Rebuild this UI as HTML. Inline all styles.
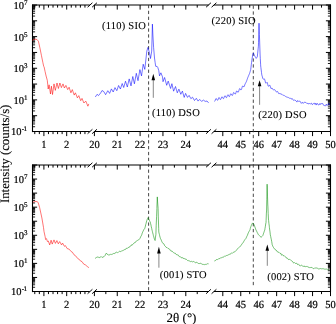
<!DOCTYPE html>
<html><head><meta charset="utf-8"><style>
html,body{margin:0;padding:0;background:#fff;}
svg{display:block;}
text{font-family:"Liberation Serif",serif;fill:#000;text-rendering:geometricPrecision;}
.tl{font-size:10.5px;stroke:#000;stroke-width:0.2px;}
.an{font-size:10.5px;stroke:#000;stroke-width:0.1px;}
.xl{font-size:10.9px;}
.xt{font-size:13px;stroke:#000;stroke-width:0.12px;}
.yt{font-size:12.8px;stroke:#000;stroke-width:0.12px;}
</style></head><body>
<svg width="336" height="324" viewBox="0 0 336 324">
<rect width="336" height="324" fill="#fff"/>
<line x1="32.50" y1="4.40" x2="32.50" y2="132.10" stroke="#000" stroke-width="1.1" />
<line x1="330.50" y1="4.40" x2="330.50" y2="132.10" stroke="#000" stroke-width="1.1" />
<line x1="32.50" y1="131.50" x2="37.10" y2="131.50" stroke="#000" stroke-width="1.0" />
<line x1="330.50" y1="131.50" x2="325.90" y2="131.50" stroke="#000" stroke-width="1.0" />
<line x1="32.50" y1="126.74" x2="35.10" y2="126.74" stroke="#000" stroke-width="0.9" />
<line x1="330.50" y1="126.74" x2="327.90" y2="126.74" stroke="#000" stroke-width="0.9" />
<line x1="32.50" y1="123.96" x2="35.10" y2="123.96" stroke="#000" stroke-width="0.9" />
<line x1="330.50" y1="123.96" x2="327.90" y2="123.96" stroke="#000" stroke-width="0.9" />
<line x1="32.50" y1="121.98" x2="35.10" y2="121.98" stroke="#000" stroke-width="0.9" />
<line x1="330.50" y1="121.98" x2="327.90" y2="121.98" stroke="#000" stroke-width="0.9" />
<line x1="32.50" y1="120.45" x2="35.10" y2="120.45" stroke="#000" stroke-width="0.9" />
<line x1="330.50" y1="120.45" x2="327.90" y2="120.45" stroke="#000" stroke-width="0.9" />
<line x1="32.50" y1="119.20" x2="35.10" y2="119.20" stroke="#000" stroke-width="0.9" />
<line x1="330.50" y1="119.20" x2="327.90" y2="119.20" stroke="#000" stroke-width="0.9" />
<line x1="32.50" y1="118.14" x2="35.10" y2="118.14" stroke="#000" stroke-width="0.9" />
<line x1="330.50" y1="118.14" x2="327.90" y2="118.14" stroke="#000" stroke-width="0.9" />
<line x1="32.50" y1="117.22" x2="35.10" y2="117.22" stroke="#000" stroke-width="0.9" />
<line x1="330.50" y1="117.22" x2="327.90" y2="117.22" stroke="#000" stroke-width="0.9" />
<line x1="32.50" y1="116.41" x2="35.10" y2="116.41" stroke="#000" stroke-width="0.9" />
<line x1="330.50" y1="116.41" x2="327.90" y2="116.41" stroke="#000" stroke-width="0.9" />
<line x1="32.50" y1="115.69" x2="37.10" y2="115.69" stroke="#000" stroke-width="1.0" />
<line x1="330.50" y1="115.69" x2="325.90" y2="115.69" stroke="#000" stroke-width="1.0" />
<line x1="32.50" y1="110.93" x2="35.10" y2="110.93" stroke="#000" stroke-width="0.9" />
<line x1="330.50" y1="110.93" x2="327.90" y2="110.93" stroke="#000" stroke-width="0.9" />
<line x1="32.50" y1="108.14" x2="35.10" y2="108.14" stroke="#000" stroke-width="0.9" />
<line x1="330.50" y1="108.14" x2="327.90" y2="108.14" stroke="#000" stroke-width="0.9" />
<line x1="32.50" y1="106.17" x2="35.10" y2="106.17" stroke="#000" stroke-width="0.9" />
<line x1="330.50" y1="106.17" x2="327.90" y2="106.17" stroke="#000" stroke-width="0.9" />
<line x1="32.50" y1="104.64" x2="35.10" y2="104.64" stroke="#000" stroke-width="0.9" />
<line x1="330.50" y1="104.64" x2="327.90" y2="104.64" stroke="#000" stroke-width="0.9" />
<line x1="32.50" y1="103.38" x2="35.10" y2="103.38" stroke="#000" stroke-width="0.9" />
<line x1="330.50" y1="103.38" x2="327.90" y2="103.38" stroke="#000" stroke-width="0.9" />
<line x1="32.50" y1="102.32" x2="35.10" y2="102.32" stroke="#000" stroke-width="0.9" />
<line x1="330.50" y1="102.32" x2="327.90" y2="102.32" stroke="#000" stroke-width="0.9" />
<line x1="32.50" y1="101.41" x2="35.10" y2="101.41" stroke="#000" stroke-width="0.9" />
<line x1="330.50" y1="101.41" x2="327.90" y2="101.41" stroke="#000" stroke-width="0.9" />
<line x1="32.50" y1="100.60" x2="35.10" y2="100.60" stroke="#000" stroke-width="0.9" />
<line x1="330.50" y1="100.60" x2="327.90" y2="100.60" stroke="#000" stroke-width="0.9" />
<line x1="32.50" y1="99.88" x2="37.10" y2="99.88" stroke="#000" stroke-width="1.0" />
<line x1="330.50" y1="99.88" x2="325.90" y2="99.88" stroke="#000" stroke-width="1.0" />
<line x1="32.50" y1="95.11" x2="35.10" y2="95.11" stroke="#000" stroke-width="0.9" />
<line x1="330.50" y1="95.11" x2="327.90" y2="95.11" stroke="#000" stroke-width="0.9" />
<line x1="32.50" y1="92.33" x2="35.10" y2="92.33" stroke="#000" stroke-width="0.9" />
<line x1="330.50" y1="92.33" x2="327.90" y2="92.33" stroke="#000" stroke-width="0.9" />
<line x1="32.50" y1="90.35" x2="35.10" y2="90.35" stroke="#000" stroke-width="0.9" />
<line x1="330.50" y1="90.35" x2="327.90" y2="90.35" stroke="#000" stroke-width="0.9" />
<line x1="32.50" y1="88.82" x2="35.10" y2="88.82" stroke="#000" stroke-width="0.9" />
<line x1="330.50" y1="88.82" x2="327.90" y2="88.82" stroke="#000" stroke-width="0.9" />
<line x1="32.50" y1="87.57" x2="35.10" y2="87.57" stroke="#000" stroke-width="0.9" />
<line x1="330.50" y1="87.57" x2="327.90" y2="87.57" stroke="#000" stroke-width="0.9" />
<line x1="32.50" y1="86.51" x2="35.10" y2="86.51" stroke="#000" stroke-width="0.9" />
<line x1="330.50" y1="86.51" x2="327.90" y2="86.51" stroke="#000" stroke-width="0.9" />
<line x1="32.50" y1="85.59" x2="35.10" y2="85.59" stroke="#000" stroke-width="0.9" />
<line x1="330.50" y1="85.59" x2="327.90" y2="85.59" stroke="#000" stroke-width="0.9" />
<line x1="32.50" y1="84.79" x2="35.10" y2="84.79" stroke="#000" stroke-width="0.9" />
<line x1="330.50" y1="84.79" x2="327.90" y2="84.79" stroke="#000" stroke-width="0.9" />
<line x1="32.50" y1="84.06" x2="37.10" y2="84.06" stroke="#000" stroke-width="1.0" />
<line x1="330.50" y1="84.06" x2="325.90" y2="84.06" stroke="#000" stroke-width="1.0" />
<line x1="32.50" y1="79.30" x2="35.10" y2="79.30" stroke="#000" stroke-width="0.9" />
<line x1="330.50" y1="79.30" x2="327.90" y2="79.30" stroke="#000" stroke-width="0.9" />
<line x1="32.50" y1="76.52" x2="35.10" y2="76.52" stroke="#000" stroke-width="0.9" />
<line x1="330.50" y1="76.52" x2="327.90" y2="76.52" stroke="#000" stroke-width="0.9" />
<line x1="32.50" y1="74.54" x2="35.10" y2="74.54" stroke="#000" stroke-width="0.9" />
<line x1="330.50" y1="74.54" x2="327.90" y2="74.54" stroke="#000" stroke-width="0.9" />
<line x1="32.50" y1="73.01" x2="35.10" y2="73.01" stroke="#000" stroke-width="0.9" />
<line x1="330.50" y1="73.01" x2="327.90" y2="73.01" stroke="#000" stroke-width="0.9" />
<line x1="32.50" y1="71.76" x2="35.10" y2="71.76" stroke="#000" stroke-width="0.9" />
<line x1="330.50" y1="71.76" x2="327.90" y2="71.76" stroke="#000" stroke-width="0.9" />
<line x1="32.50" y1="70.70" x2="35.10" y2="70.70" stroke="#000" stroke-width="0.9" />
<line x1="330.50" y1="70.70" x2="327.90" y2="70.70" stroke="#000" stroke-width="0.9" />
<line x1="32.50" y1="69.78" x2="35.10" y2="69.78" stroke="#000" stroke-width="0.9" />
<line x1="330.50" y1="69.78" x2="327.90" y2="69.78" stroke="#000" stroke-width="0.9" />
<line x1="32.50" y1="68.97" x2="35.10" y2="68.97" stroke="#000" stroke-width="0.9" />
<line x1="330.50" y1="68.97" x2="327.90" y2="68.97" stroke="#000" stroke-width="0.9" />
<line x1="32.50" y1="68.25" x2="37.10" y2="68.25" stroke="#000" stroke-width="1.0" />
<line x1="330.50" y1="68.25" x2="325.90" y2="68.25" stroke="#000" stroke-width="1.0" />
<line x1="32.50" y1="63.49" x2="35.10" y2="63.49" stroke="#000" stroke-width="0.9" />
<line x1="330.50" y1="63.49" x2="327.90" y2="63.49" stroke="#000" stroke-width="0.9" />
<line x1="32.50" y1="60.71" x2="35.10" y2="60.71" stroke="#000" stroke-width="0.9" />
<line x1="330.50" y1="60.71" x2="327.90" y2="60.71" stroke="#000" stroke-width="0.9" />
<line x1="32.50" y1="58.73" x2="35.10" y2="58.73" stroke="#000" stroke-width="0.9" />
<line x1="330.50" y1="58.73" x2="327.90" y2="58.73" stroke="#000" stroke-width="0.9" />
<line x1="32.50" y1="57.20" x2="35.10" y2="57.20" stroke="#000" stroke-width="0.9" />
<line x1="330.50" y1="57.20" x2="327.90" y2="57.20" stroke="#000" stroke-width="0.9" />
<line x1="32.50" y1="55.95" x2="35.10" y2="55.95" stroke="#000" stroke-width="0.9" />
<line x1="330.50" y1="55.95" x2="327.90" y2="55.95" stroke="#000" stroke-width="0.9" />
<line x1="32.50" y1="54.89" x2="35.10" y2="54.89" stroke="#000" stroke-width="0.9" />
<line x1="330.50" y1="54.89" x2="327.90" y2="54.89" stroke="#000" stroke-width="0.9" />
<line x1="32.50" y1="53.97" x2="35.10" y2="53.97" stroke="#000" stroke-width="0.9" />
<line x1="330.50" y1="53.97" x2="327.90" y2="53.97" stroke="#000" stroke-width="0.9" />
<line x1="32.50" y1="53.16" x2="35.10" y2="53.16" stroke="#000" stroke-width="0.9" />
<line x1="330.50" y1="53.16" x2="327.90" y2="53.16" stroke="#000" stroke-width="0.9" />
<line x1="32.50" y1="52.44" x2="37.10" y2="52.44" stroke="#000" stroke-width="1.0" />
<line x1="330.50" y1="52.44" x2="325.90" y2="52.44" stroke="#000" stroke-width="1.0" />
<line x1="32.50" y1="47.68" x2="35.10" y2="47.68" stroke="#000" stroke-width="0.9" />
<line x1="330.50" y1="47.68" x2="327.90" y2="47.68" stroke="#000" stroke-width="0.9" />
<line x1="32.50" y1="44.89" x2="35.10" y2="44.89" stroke="#000" stroke-width="0.9" />
<line x1="330.50" y1="44.89" x2="327.90" y2="44.89" stroke="#000" stroke-width="0.9" />
<line x1="32.50" y1="42.92" x2="35.10" y2="42.92" stroke="#000" stroke-width="0.9" />
<line x1="330.50" y1="42.92" x2="327.90" y2="42.92" stroke="#000" stroke-width="0.9" />
<line x1="32.50" y1="41.39" x2="35.10" y2="41.39" stroke="#000" stroke-width="0.9" />
<line x1="330.50" y1="41.39" x2="327.90" y2="41.39" stroke="#000" stroke-width="0.9" />
<line x1="32.50" y1="40.13" x2="35.10" y2="40.13" stroke="#000" stroke-width="0.9" />
<line x1="330.50" y1="40.13" x2="327.90" y2="40.13" stroke="#000" stroke-width="0.9" />
<line x1="32.50" y1="39.07" x2="35.10" y2="39.07" stroke="#000" stroke-width="0.9" />
<line x1="330.50" y1="39.07" x2="327.90" y2="39.07" stroke="#000" stroke-width="0.9" />
<line x1="32.50" y1="38.16" x2="35.10" y2="38.16" stroke="#000" stroke-width="0.9" />
<line x1="330.50" y1="38.16" x2="327.90" y2="38.16" stroke="#000" stroke-width="0.9" />
<line x1="32.50" y1="37.35" x2="35.10" y2="37.35" stroke="#000" stroke-width="0.9" />
<line x1="330.50" y1="37.35" x2="327.90" y2="37.35" stroke="#000" stroke-width="0.9" />
<line x1="32.50" y1="36.62" x2="37.10" y2="36.62" stroke="#000" stroke-width="1.0" />
<line x1="330.50" y1="36.62" x2="325.90" y2="36.62" stroke="#000" stroke-width="1.0" />
<line x1="32.50" y1="31.86" x2="35.10" y2="31.86" stroke="#000" stroke-width="0.9" />
<line x1="330.50" y1="31.86" x2="327.90" y2="31.86" stroke="#000" stroke-width="0.9" />
<line x1="32.50" y1="29.08" x2="35.10" y2="29.08" stroke="#000" stroke-width="0.9" />
<line x1="330.50" y1="29.08" x2="327.90" y2="29.08" stroke="#000" stroke-width="0.9" />
<line x1="32.50" y1="27.10" x2="35.10" y2="27.10" stroke="#000" stroke-width="0.9" />
<line x1="330.50" y1="27.10" x2="327.90" y2="27.10" stroke="#000" stroke-width="0.9" />
<line x1="32.50" y1="25.57" x2="35.10" y2="25.57" stroke="#000" stroke-width="0.9" />
<line x1="330.50" y1="25.57" x2="327.90" y2="25.57" stroke="#000" stroke-width="0.9" />
<line x1="32.50" y1="24.32" x2="35.10" y2="24.32" stroke="#000" stroke-width="0.9" />
<line x1="330.50" y1="24.32" x2="327.90" y2="24.32" stroke="#000" stroke-width="0.9" />
<line x1="32.50" y1="23.26" x2="35.10" y2="23.26" stroke="#000" stroke-width="0.9" />
<line x1="330.50" y1="23.26" x2="327.90" y2="23.26" stroke="#000" stroke-width="0.9" />
<line x1="32.50" y1="22.34" x2="35.10" y2="22.34" stroke="#000" stroke-width="0.9" />
<line x1="330.50" y1="22.34" x2="327.90" y2="22.34" stroke="#000" stroke-width="0.9" />
<line x1="32.50" y1="21.54" x2="35.10" y2="21.54" stroke="#000" stroke-width="0.9" />
<line x1="330.50" y1="21.54" x2="327.90" y2="21.54" stroke="#000" stroke-width="0.9" />
<line x1="32.50" y1="20.81" x2="37.10" y2="20.81" stroke="#000" stroke-width="1.0" />
<line x1="330.50" y1="20.81" x2="325.90" y2="20.81" stroke="#000" stroke-width="1.0" />
<line x1="32.50" y1="16.05" x2="35.10" y2="16.05" stroke="#000" stroke-width="0.9" />
<line x1="330.50" y1="16.05" x2="327.90" y2="16.05" stroke="#000" stroke-width="0.9" />
<line x1="32.50" y1="13.27" x2="35.10" y2="13.27" stroke="#000" stroke-width="0.9" />
<line x1="330.50" y1="13.27" x2="327.90" y2="13.27" stroke="#000" stroke-width="0.9" />
<line x1="32.50" y1="11.29" x2="35.10" y2="11.29" stroke="#000" stroke-width="0.9" />
<line x1="330.50" y1="11.29" x2="327.90" y2="11.29" stroke="#000" stroke-width="0.9" />
<line x1="32.50" y1="9.76" x2="35.10" y2="9.76" stroke="#000" stroke-width="0.9" />
<line x1="330.50" y1="9.76" x2="327.90" y2="9.76" stroke="#000" stroke-width="0.9" />
<line x1="32.50" y1="8.51" x2="35.10" y2="8.51" stroke="#000" stroke-width="0.9" />
<line x1="330.50" y1="8.51" x2="327.90" y2="8.51" stroke="#000" stroke-width="0.9" />
<line x1="32.50" y1="7.45" x2="35.10" y2="7.45" stroke="#000" stroke-width="0.9" />
<line x1="330.50" y1="7.45" x2="327.90" y2="7.45" stroke="#000" stroke-width="0.9" />
<line x1="32.50" y1="6.53" x2="35.10" y2="6.53" stroke="#000" stroke-width="0.9" />
<line x1="330.50" y1="6.53" x2="327.90" y2="6.53" stroke="#000" stroke-width="0.9" />
<line x1="32.50" y1="5.72" x2="35.10" y2="5.72" stroke="#000" stroke-width="0.9" />
<line x1="330.50" y1="5.72" x2="327.90" y2="5.72" stroke="#000" stroke-width="0.9" />
<line x1="32.50" y1="5.00" x2="37.10" y2="5.00" stroke="#000" stroke-width="1.0" />
<line x1="330.50" y1="5.00" x2="325.90" y2="5.00" stroke="#000" stroke-width="1.0" />
<line x1="32.50" y1="5.00" x2="89.80" y2="5.00" stroke="#000" stroke-width="1.2" />
<line x1="43.90" y1="5.00" x2="43.90" y2="9.60" stroke="#000" stroke-width="1.0" />
<line x1="66.70" y1="5.00" x2="66.70" y2="9.60" stroke="#000" stroke-width="1.0" />
<line x1="34.78" y1="5.00" x2="34.78" y2="7.60" stroke="#000" stroke-width="1.0" />
<line x1="39.34" y1="5.00" x2="39.34" y2="7.60" stroke="#000" stroke-width="1.0" />
<line x1="48.46" y1="5.00" x2="48.46" y2="7.60" stroke="#000" stroke-width="1.0" />
<line x1="53.02" y1="5.00" x2="53.02" y2="7.60" stroke="#000" stroke-width="1.0" />
<line x1="57.58" y1="5.00" x2="57.58" y2="7.60" stroke="#000" stroke-width="1.0" />
<line x1="62.14" y1="5.00" x2="62.14" y2="7.60" stroke="#000" stroke-width="1.0" />
<line x1="71.26" y1="5.00" x2="71.26" y2="7.60" stroke="#000" stroke-width="1.0" />
<line x1="75.82" y1="5.00" x2="75.82" y2="7.60" stroke="#000" stroke-width="1.0" />
<line x1="80.38" y1="5.00" x2="80.38" y2="7.60" stroke="#000" stroke-width="1.0" />
<line x1="84.94" y1="5.00" x2="84.94" y2="7.60" stroke="#000" stroke-width="1.0" />
<line x1="32.50" y1="131.50" x2="89.80" y2="131.50" stroke="#000" stroke-width="1.2" />
<line x1="43.90" y1="131.50" x2="43.90" y2="136.10" stroke="#000" stroke-width="1.0" />
<line x1="66.70" y1="131.50" x2="66.70" y2="136.10" stroke="#000" stroke-width="1.0" />
<line x1="34.78" y1="131.50" x2="34.78" y2="134.10" stroke="#000" stroke-width="1.0" />
<line x1="39.34" y1="131.50" x2="39.34" y2="134.10" stroke="#000" stroke-width="1.0" />
<line x1="48.46" y1="131.50" x2="48.46" y2="134.10" stroke="#000" stroke-width="1.0" />
<line x1="53.02" y1="131.50" x2="53.02" y2="134.10" stroke="#000" stroke-width="1.0" />
<line x1="57.58" y1="131.50" x2="57.58" y2="134.10" stroke="#000" stroke-width="1.0" />
<line x1="62.14" y1="131.50" x2="62.14" y2="134.10" stroke="#000" stroke-width="1.0" />
<line x1="71.26" y1="131.50" x2="71.26" y2="134.10" stroke="#000" stroke-width="1.0" />
<line x1="75.82" y1="131.50" x2="75.82" y2="134.10" stroke="#000" stroke-width="1.0" />
<line x1="80.38" y1="131.50" x2="80.38" y2="134.10" stroke="#000" stroke-width="1.0" />
<line x1="84.94" y1="131.50" x2="84.94" y2="134.10" stroke="#000" stroke-width="1.0" />
<line x1="94.40" y1="5.00" x2="208.65" y2="5.00" stroke="#000" stroke-width="1.2" />
<line x1="94.40" y1="5.00" x2="94.40" y2="9.60" stroke="#000" stroke-width="1.0" />
<line x1="117.25" y1="5.00" x2="117.25" y2="9.60" stroke="#000" stroke-width="1.0" />
<line x1="140.10" y1="5.00" x2="140.10" y2="9.60" stroke="#000" stroke-width="1.0" />
<line x1="162.95" y1="5.00" x2="162.95" y2="9.60" stroke="#000" stroke-width="1.0" />
<line x1="185.80" y1="5.00" x2="185.80" y2="9.60" stroke="#000" stroke-width="1.0" />
<line x1="105.83" y1="5.00" x2="105.83" y2="7.60" stroke="#000" stroke-width="1.0" />
<line x1="128.68" y1="5.00" x2="128.68" y2="7.60" stroke="#000" stroke-width="1.0" />
<line x1="151.53" y1="5.00" x2="151.53" y2="7.60" stroke="#000" stroke-width="1.0" />
<line x1="174.38" y1="5.00" x2="174.38" y2="7.60" stroke="#000" stroke-width="1.0" />
<line x1="197.23" y1="5.00" x2="197.23" y2="7.60" stroke="#000" stroke-width="1.0" />
<line x1="94.40" y1="131.50" x2="208.65" y2="131.50" stroke="#000" stroke-width="1.2" />
<line x1="94.40" y1="131.50" x2="94.40" y2="136.10" stroke="#000" stroke-width="1.0" />
<line x1="117.25" y1="131.50" x2="117.25" y2="136.10" stroke="#000" stroke-width="1.0" />
<line x1="140.10" y1="131.50" x2="140.10" y2="136.10" stroke="#000" stroke-width="1.0" />
<line x1="162.95" y1="131.50" x2="162.95" y2="136.10" stroke="#000" stroke-width="1.0" />
<line x1="185.80" y1="131.50" x2="185.80" y2="136.10" stroke="#000" stroke-width="1.0" />
<line x1="105.83" y1="131.50" x2="105.83" y2="134.10" stroke="#000" stroke-width="1.0" />
<line x1="128.68" y1="131.50" x2="128.68" y2="134.10" stroke="#000" stroke-width="1.0" />
<line x1="151.53" y1="131.50" x2="151.53" y2="134.10" stroke="#000" stroke-width="1.0" />
<line x1="174.38" y1="131.50" x2="174.38" y2="134.10" stroke="#000" stroke-width="1.0" />
<line x1="197.23" y1="131.50" x2="197.23" y2="134.10" stroke="#000" stroke-width="1.0" />
<line x1="213.90" y1="5.00" x2="330.50" y2="5.00" stroke="#000" stroke-width="1.2" />
<line x1="222.80" y1="5.00" x2="222.80" y2="9.60" stroke="#000" stroke-width="1.0" />
<line x1="240.75" y1="5.00" x2="240.75" y2="9.60" stroke="#000" stroke-width="1.0" />
<line x1="258.70" y1="5.00" x2="258.70" y2="9.60" stroke="#000" stroke-width="1.0" />
<line x1="276.65" y1="5.00" x2="276.65" y2="9.60" stroke="#000" stroke-width="1.0" />
<line x1="294.60" y1="5.00" x2="294.60" y2="9.60" stroke="#000" stroke-width="1.0" />
<line x1="312.55" y1="5.00" x2="312.55" y2="9.60" stroke="#000" stroke-width="1.0" />
<line x1="330.50" y1="5.00" x2="330.50" y2="9.60" stroke="#000" stroke-width="1.0" />
<line x1="231.78" y1="5.00" x2="231.78" y2="7.60" stroke="#000" stroke-width="1.0" />
<line x1="249.73" y1="5.00" x2="249.73" y2="7.60" stroke="#000" stroke-width="1.0" />
<line x1="267.68" y1="5.00" x2="267.68" y2="7.60" stroke="#000" stroke-width="1.0" />
<line x1="285.62" y1="5.00" x2="285.62" y2="7.60" stroke="#000" stroke-width="1.0" />
<line x1="303.57" y1="5.00" x2="303.57" y2="7.60" stroke="#000" stroke-width="1.0" />
<line x1="321.52" y1="5.00" x2="321.52" y2="7.60" stroke="#000" stroke-width="1.0" />
<line x1="213.90" y1="131.50" x2="330.50" y2="131.50" stroke="#000" stroke-width="1.2" />
<line x1="222.80" y1="131.50" x2="222.80" y2="136.10" stroke="#000" stroke-width="1.0" />
<line x1="240.75" y1="131.50" x2="240.75" y2="136.10" stroke="#000" stroke-width="1.0" />
<line x1="258.70" y1="131.50" x2="258.70" y2="136.10" stroke="#000" stroke-width="1.0" />
<line x1="276.65" y1="131.50" x2="276.65" y2="136.10" stroke="#000" stroke-width="1.0" />
<line x1="294.60" y1="131.50" x2="294.60" y2="136.10" stroke="#000" stroke-width="1.0" />
<line x1="312.55" y1="131.50" x2="312.55" y2="136.10" stroke="#000" stroke-width="1.0" />
<line x1="330.50" y1="131.50" x2="330.50" y2="136.10" stroke="#000" stroke-width="1.0" />
<line x1="231.78" y1="131.50" x2="231.78" y2="134.10" stroke="#000" stroke-width="1.0" />
<line x1="249.73" y1="131.50" x2="249.73" y2="134.10" stroke="#000" stroke-width="1.0" />
<line x1="267.68" y1="131.50" x2="267.68" y2="134.10" stroke="#000" stroke-width="1.0" />
<line x1="285.62" y1="131.50" x2="285.62" y2="134.10" stroke="#000" stroke-width="1.0" />
<line x1="303.57" y1="131.50" x2="303.57" y2="134.10" stroke="#000" stroke-width="1.0" />
<line x1="321.52" y1="131.50" x2="321.52" y2="134.10" stroke="#000" stroke-width="1.0" />
<line x1="87.60" y1="7.20" x2="92.40" y2="2.80" stroke="#000" stroke-width="1.0" />
<line x1="87.60" y1="133.70" x2="92.40" y2="129.30" stroke="#000" stroke-width="1.0" />
<line x1="92.10" y1="7.20" x2="96.90" y2="2.80" stroke="#000" stroke-width="1.0" />
<line x1="92.10" y1="133.70" x2="96.90" y2="129.30" stroke="#000" stroke-width="1.0" />
<line x1="206.10" y1="7.20" x2="210.90" y2="2.80" stroke="#000" stroke-width="1.0" />
<line x1="206.10" y1="133.70" x2="210.90" y2="129.30" stroke="#000" stroke-width="1.0" />
<line x1="211.60" y1="7.20" x2="216.40" y2="2.80" stroke="#000" stroke-width="1.0" />
<line x1="211.60" y1="133.70" x2="216.40" y2="129.30" stroke="#000" stroke-width="1.0" />
<text x="27.4" y="8.90" text-anchor="end" class="tl">10<tspan dy="-4.0" font-size="7.0">7</tspan></text>
<text x="27.4" y="40.52" text-anchor="end" class="tl">10<tspan dy="-4.0" font-size="7.0">5</tspan></text>
<text x="27.4" y="72.15" text-anchor="end" class="tl">10<tspan dy="-4.0" font-size="7.0">3</tspan></text>
<text x="27.4" y="103.78" text-anchor="end" class="tl">10<tspan dy="-4.0" font-size="7.0">1</tspan></text>
<text x="21.45" y="135.40" text-anchor="end" class="tl">10</text><text x="21.7" y="131.40" class="tl" style="font-size:7px">-</text><text x="26.9" y="131.10" class="tl" style="font-size:7px" text-anchor="end">1</text>
<text x="43.90" y="147.80" text-anchor="middle" class="tl xl" textLength="5.25" lengthAdjust="spacingAndGlyphs">1</text>
<text x="66.70" y="147.80" text-anchor="middle" class="tl xl" textLength="5.25" lengthAdjust="spacingAndGlyphs">2</text>
<text x="94.40" y="147.80" text-anchor="middle" class="tl xl" textLength="10.50" lengthAdjust="spacingAndGlyphs">20</text>
<text x="117.25" y="147.80" text-anchor="middle" class="tl xl" textLength="10.50" lengthAdjust="spacingAndGlyphs">21</text>
<text x="140.10" y="147.80" text-anchor="middle" class="tl xl" textLength="10.50" lengthAdjust="spacingAndGlyphs">22</text>
<text x="162.95" y="147.80" text-anchor="middle" class="tl xl" textLength="10.50" lengthAdjust="spacingAndGlyphs">23</text>
<text x="185.80" y="147.80" text-anchor="middle" class="tl xl" textLength="10.50" lengthAdjust="spacingAndGlyphs">24</text>
<text x="222.80" y="147.80" text-anchor="middle" class="tl xl" textLength="10.50" lengthAdjust="spacingAndGlyphs">44</text>
<text x="240.75" y="147.80" text-anchor="middle" class="tl xl" textLength="10.50" lengthAdjust="spacingAndGlyphs">45</text>
<text x="258.70" y="147.80" text-anchor="middle" class="tl xl" textLength="10.50" lengthAdjust="spacingAndGlyphs">46</text>
<text x="276.65" y="147.80" text-anchor="middle" class="tl xl" textLength="10.50" lengthAdjust="spacingAndGlyphs">47</text>
<text x="294.60" y="147.80" text-anchor="middle" class="tl xl" textLength="10.50" lengthAdjust="spacingAndGlyphs">48</text>
<text x="312.55" y="147.80" text-anchor="middle" class="tl xl" textLength="10.50" lengthAdjust="spacingAndGlyphs">49</text>
<text x="330.50" y="147.80" text-anchor="middle" class="tl xl" textLength="10.50" lengthAdjust="spacingAndGlyphs">50</text>
<line x1="32.50" y1="164.40" x2="32.50" y2="292.10" stroke="#000" stroke-width="1.1" />
<line x1="330.50" y1="164.40" x2="330.50" y2="292.10" stroke="#000" stroke-width="1.1" />
<line x1="32.50" y1="291.50" x2="37.10" y2="291.50" stroke="#000" stroke-width="1.0" />
<line x1="330.50" y1="291.50" x2="325.90" y2="291.50" stroke="#000" stroke-width="1.0" />
<line x1="32.50" y1="287.27" x2="35.10" y2="287.27" stroke="#000" stroke-width="0.9" />
<line x1="330.50" y1="287.27" x2="327.90" y2="287.27" stroke="#000" stroke-width="0.9" />
<line x1="32.50" y1="284.79" x2="35.10" y2="284.79" stroke="#000" stroke-width="0.9" />
<line x1="330.50" y1="284.79" x2="327.90" y2="284.79" stroke="#000" stroke-width="0.9" />
<line x1="32.50" y1="283.04" x2="35.10" y2="283.04" stroke="#000" stroke-width="0.9" />
<line x1="330.50" y1="283.04" x2="327.90" y2="283.04" stroke="#000" stroke-width="0.9" />
<line x1="32.50" y1="281.68" x2="35.10" y2="281.68" stroke="#000" stroke-width="0.9" />
<line x1="330.50" y1="281.68" x2="327.90" y2="281.68" stroke="#000" stroke-width="0.9" />
<line x1="32.50" y1="280.56" x2="35.10" y2="280.56" stroke="#000" stroke-width="0.9" />
<line x1="330.50" y1="280.56" x2="327.90" y2="280.56" stroke="#000" stroke-width="0.9" />
<line x1="32.50" y1="279.62" x2="35.10" y2="279.62" stroke="#000" stroke-width="0.9" />
<line x1="330.50" y1="279.62" x2="327.90" y2="279.62" stroke="#000" stroke-width="0.9" />
<line x1="32.50" y1="278.81" x2="35.10" y2="278.81" stroke="#000" stroke-width="0.9" />
<line x1="330.50" y1="278.81" x2="327.90" y2="278.81" stroke="#000" stroke-width="0.9" />
<line x1="32.50" y1="278.09" x2="35.10" y2="278.09" stroke="#000" stroke-width="0.9" />
<line x1="330.50" y1="278.09" x2="327.90" y2="278.09" stroke="#000" stroke-width="0.9" />
<line x1="32.50" y1="277.44" x2="37.10" y2="277.44" stroke="#000" stroke-width="1.0" />
<line x1="330.50" y1="277.44" x2="325.90" y2="277.44" stroke="#000" stroke-width="1.0" />
<line x1="32.50" y1="273.21" x2="35.10" y2="273.21" stroke="#000" stroke-width="0.9" />
<line x1="330.50" y1="273.21" x2="327.90" y2="273.21" stroke="#000" stroke-width="0.9" />
<line x1="32.50" y1="270.74" x2="35.10" y2="270.74" stroke="#000" stroke-width="0.9" />
<line x1="330.50" y1="270.74" x2="327.90" y2="270.74" stroke="#000" stroke-width="0.9" />
<line x1="32.50" y1="268.98" x2="35.10" y2="268.98" stroke="#000" stroke-width="0.9" />
<line x1="330.50" y1="268.98" x2="327.90" y2="268.98" stroke="#000" stroke-width="0.9" />
<line x1="32.50" y1="267.62" x2="35.10" y2="267.62" stroke="#000" stroke-width="0.9" />
<line x1="330.50" y1="267.62" x2="327.90" y2="267.62" stroke="#000" stroke-width="0.9" />
<line x1="32.50" y1="266.51" x2="35.10" y2="266.51" stroke="#000" stroke-width="0.9" />
<line x1="330.50" y1="266.51" x2="327.90" y2="266.51" stroke="#000" stroke-width="0.9" />
<line x1="32.50" y1="265.57" x2="35.10" y2="265.57" stroke="#000" stroke-width="0.9" />
<line x1="330.50" y1="265.57" x2="327.90" y2="265.57" stroke="#000" stroke-width="0.9" />
<line x1="32.50" y1="264.75" x2="35.10" y2="264.75" stroke="#000" stroke-width="0.9" />
<line x1="330.50" y1="264.75" x2="327.90" y2="264.75" stroke="#000" stroke-width="0.9" />
<line x1="32.50" y1="264.03" x2="35.10" y2="264.03" stroke="#000" stroke-width="0.9" />
<line x1="330.50" y1="264.03" x2="327.90" y2="264.03" stroke="#000" stroke-width="0.9" />
<line x1="32.50" y1="263.39" x2="37.10" y2="263.39" stroke="#000" stroke-width="1.0" />
<line x1="330.50" y1="263.39" x2="325.90" y2="263.39" stroke="#000" stroke-width="1.0" />
<line x1="32.50" y1="259.16" x2="35.10" y2="259.16" stroke="#000" stroke-width="0.9" />
<line x1="330.50" y1="259.16" x2="327.90" y2="259.16" stroke="#000" stroke-width="0.9" />
<line x1="32.50" y1="256.68" x2="35.10" y2="256.68" stroke="#000" stroke-width="0.9" />
<line x1="330.50" y1="256.68" x2="327.90" y2="256.68" stroke="#000" stroke-width="0.9" />
<line x1="32.50" y1="254.93" x2="35.10" y2="254.93" stroke="#000" stroke-width="0.9" />
<line x1="330.50" y1="254.93" x2="327.90" y2="254.93" stroke="#000" stroke-width="0.9" />
<line x1="32.50" y1="253.56" x2="35.10" y2="253.56" stroke="#000" stroke-width="0.9" />
<line x1="330.50" y1="253.56" x2="327.90" y2="253.56" stroke="#000" stroke-width="0.9" />
<line x1="32.50" y1="252.45" x2="35.10" y2="252.45" stroke="#000" stroke-width="0.9" />
<line x1="330.50" y1="252.45" x2="327.90" y2="252.45" stroke="#000" stroke-width="0.9" />
<line x1="32.50" y1="251.51" x2="35.10" y2="251.51" stroke="#000" stroke-width="0.9" />
<line x1="330.50" y1="251.51" x2="327.90" y2="251.51" stroke="#000" stroke-width="0.9" />
<line x1="32.50" y1="250.70" x2="35.10" y2="250.70" stroke="#000" stroke-width="0.9" />
<line x1="330.50" y1="250.70" x2="327.90" y2="250.70" stroke="#000" stroke-width="0.9" />
<line x1="32.50" y1="249.98" x2="35.10" y2="249.98" stroke="#000" stroke-width="0.9" />
<line x1="330.50" y1="249.98" x2="327.90" y2="249.98" stroke="#000" stroke-width="0.9" />
<line x1="32.50" y1="249.33" x2="37.10" y2="249.33" stroke="#000" stroke-width="1.0" />
<line x1="330.50" y1="249.33" x2="325.90" y2="249.33" stroke="#000" stroke-width="1.0" />
<line x1="32.50" y1="245.10" x2="35.10" y2="245.10" stroke="#000" stroke-width="0.9" />
<line x1="330.50" y1="245.10" x2="327.90" y2="245.10" stroke="#000" stroke-width="0.9" />
<line x1="32.50" y1="242.63" x2="35.10" y2="242.63" stroke="#000" stroke-width="0.9" />
<line x1="330.50" y1="242.63" x2="327.90" y2="242.63" stroke="#000" stroke-width="0.9" />
<line x1="32.50" y1="240.87" x2="35.10" y2="240.87" stroke="#000" stroke-width="0.9" />
<line x1="330.50" y1="240.87" x2="327.90" y2="240.87" stroke="#000" stroke-width="0.9" />
<line x1="32.50" y1="239.51" x2="35.10" y2="239.51" stroke="#000" stroke-width="0.9" />
<line x1="330.50" y1="239.51" x2="327.90" y2="239.51" stroke="#000" stroke-width="0.9" />
<line x1="32.50" y1="238.40" x2="35.10" y2="238.40" stroke="#000" stroke-width="0.9" />
<line x1="330.50" y1="238.40" x2="327.90" y2="238.40" stroke="#000" stroke-width="0.9" />
<line x1="32.50" y1="237.46" x2="35.10" y2="237.46" stroke="#000" stroke-width="0.9" />
<line x1="330.50" y1="237.46" x2="327.90" y2="237.46" stroke="#000" stroke-width="0.9" />
<line x1="32.50" y1="236.64" x2="35.10" y2="236.64" stroke="#000" stroke-width="0.9" />
<line x1="330.50" y1="236.64" x2="327.90" y2="236.64" stroke="#000" stroke-width="0.9" />
<line x1="32.50" y1="235.92" x2="35.10" y2="235.92" stroke="#000" stroke-width="0.9" />
<line x1="330.50" y1="235.92" x2="327.90" y2="235.92" stroke="#000" stroke-width="0.9" />
<line x1="32.50" y1="235.28" x2="37.10" y2="235.28" stroke="#000" stroke-width="1.0" />
<line x1="330.50" y1="235.28" x2="325.90" y2="235.28" stroke="#000" stroke-width="1.0" />
<line x1="32.50" y1="231.05" x2="35.10" y2="231.05" stroke="#000" stroke-width="0.9" />
<line x1="330.50" y1="231.05" x2="327.90" y2="231.05" stroke="#000" stroke-width="0.9" />
<line x1="32.50" y1="228.57" x2="35.10" y2="228.57" stroke="#000" stroke-width="0.9" />
<line x1="330.50" y1="228.57" x2="327.90" y2="228.57" stroke="#000" stroke-width="0.9" />
<line x1="32.50" y1="226.82" x2="35.10" y2="226.82" stroke="#000" stroke-width="0.9" />
<line x1="330.50" y1="226.82" x2="327.90" y2="226.82" stroke="#000" stroke-width="0.9" />
<line x1="32.50" y1="225.45" x2="35.10" y2="225.45" stroke="#000" stroke-width="0.9" />
<line x1="330.50" y1="225.45" x2="327.90" y2="225.45" stroke="#000" stroke-width="0.9" />
<line x1="32.50" y1="224.34" x2="35.10" y2="224.34" stroke="#000" stroke-width="0.9" />
<line x1="330.50" y1="224.34" x2="327.90" y2="224.34" stroke="#000" stroke-width="0.9" />
<line x1="32.50" y1="223.40" x2="35.10" y2="223.40" stroke="#000" stroke-width="0.9" />
<line x1="330.50" y1="223.40" x2="327.90" y2="223.40" stroke="#000" stroke-width="0.9" />
<line x1="32.50" y1="222.58" x2="35.10" y2="222.58" stroke="#000" stroke-width="0.9" />
<line x1="330.50" y1="222.58" x2="327.90" y2="222.58" stroke="#000" stroke-width="0.9" />
<line x1="32.50" y1="221.87" x2="35.10" y2="221.87" stroke="#000" stroke-width="0.9" />
<line x1="330.50" y1="221.87" x2="327.90" y2="221.87" stroke="#000" stroke-width="0.9" />
<line x1="32.50" y1="221.22" x2="37.10" y2="221.22" stroke="#000" stroke-width="1.0" />
<line x1="330.50" y1="221.22" x2="325.90" y2="221.22" stroke="#000" stroke-width="1.0" />
<line x1="32.50" y1="216.99" x2="35.10" y2="216.99" stroke="#000" stroke-width="0.9" />
<line x1="330.50" y1="216.99" x2="327.90" y2="216.99" stroke="#000" stroke-width="0.9" />
<line x1="32.50" y1="214.52" x2="35.10" y2="214.52" stroke="#000" stroke-width="0.9" />
<line x1="330.50" y1="214.52" x2="327.90" y2="214.52" stroke="#000" stroke-width="0.9" />
<line x1="32.50" y1="212.76" x2="35.10" y2="212.76" stroke="#000" stroke-width="0.9" />
<line x1="330.50" y1="212.76" x2="327.90" y2="212.76" stroke="#000" stroke-width="0.9" />
<line x1="32.50" y1="211.40" x2="35.10" y2="211.40" stroke="#000" stroke-width="0.9" />
<line x1="330.50" y1="211.40" x2="327.90" y2="211.40" stroke="#000" stroke-width="0.9" />
<line x1="32.50" y1="210.28" x2="35.10" y2="210.28" stroke="#000" stroke-width="0.9" />
<line x1="330.50" y1="210.28" x2="327.90" y2="210.28" stroke="#000" stroke-width="0.9" />
<line x1="32.50" y1="209.34" x2="35.10" y2="209.34" stroke="#000" stroke-width="0.9" />
<line x1="330.50" y1="209.34" x2="327.90" y2="209.34" stroke="#000" stroke-width="0.9" />
<line x1="32.50" y1="208.53" x2="35.10" y2="208.53" stroke="#000" stroke-width="0.9" />
<line x1="330.50" y1="208.53" x2="327.90" y2="208.53" stroke="#000" stroke-width="0.9" />
<line x1="32.50" y1="207.81" x2="35.10" y2="207.81" stroke="#000" stroke-width="0.9" />
<line x1="330.50" y1="207.81" x2="327.90" y2="207.81" stroke="#000" stroke-width="0.9" />
<line x1="32.50" y1="207.17" x2="37.10" y2="207.17" stroke="#000" stroke-width="1.0" />
<line x1="330.50" y1="207.17" x2="325.90" y2="207.17" stroke="#000" stroke-width="1.0" />
<line x1="32.50" y1="202.94" x2="35.10" y2="202.94" stroke="#000" stroke-width="0.9" />
<line x1="330.50" y1="202.94" x2="327.90" y2="202.94" stroke="#000" stroke-width="0.9" />
<line x1="32.50" y1="200.46" x2="35.10" y2="200.46" stroke="#000" stroke-width="0.9" />
<line x1="330.50" y1="200.46" x2="327.90" y2="200.46" stroke="#000" stroke-width="0.9" />
<line x1="32.50" y1="198.70" x2="35.10" y2="198.70" stroke="#000" stroke-width="0.9" />
<line x1="330.50" y1="198.70" x2="327.90" y2="198.70" stroke="#000" stroke-width="0.9" />
<line x1="32.50" y1="197.34" x2="35.10" y2="197.34" stroke="#000" stroke-width="0.9" />
<line x1="330.50" y1="197.34" x2="327.90" y2="197.34" stroke="#000" stroke-width="0.9" />
<line x1="32.50" y1="196.23" x2="35.10" y2="196.23" stroke="#000" stroke-width="0.9" />
<line x1="330.50" y1="196.23" x2="327.90" y2="196.23" stroke="#000" stroke-width="0.9" />
<line x1="32.50" y1="195.29" x2="35.10" y2="195.29" stroke="#000" stroke-width="0.9" />
<line x1="330.50" y1="195.29" x2="327.90" y2="195.29" stroke="#000" stroke-width="0.9" />
<line x1="32.50" y1="194.47" x2="35.10" y2="194.47" stroke="#000" stroke-width="0.9" />
<line x1="330.50" y1="194.47" x2="327.90" y2="194.47" stroke="#000" stroke-width="0.9" />
<line x1="32.50" y1="193.75" x2="35.10" y2="193.75" stroke="#000" stroke-width="0.9" />
<line x1="330.50" y1="193.75" x2="327.90" y2="193.75" stroke="#000" stroke-width="0.9" />
<line x1="32.50" y1="193.11" x2="37.10" y2="193.11" stroke="#000" stroke-width="1.0" />
<line x1="330.50" y1="193.11" x2="325.90" y2="193.11" stroke="#000" stroke-width="1.0" />
<line x1="32.50" y1="188.88" x2="35.10" y2="188.88" stroke="#000" stroke-width="0.9" />
<line x1="330.50" y1="188.88" x2="327.90" y2="188.88" stroke="#000" stroke-width="0.9" />
<line x1="32.50" y1="186.40" x2="35.10" y2="186.40" stroke="#000" stroke-width="0.9" />
<line x1="330.50" y1="186.40" x2="327.90" y2="186.40" stroke="#000" stroke-width="0.9" />
<line x1="32.50" y1="184.65" x2="35.10" y2="184.65" stroke="#000" stroke-width="0.9" />
<line x1="330.50" y1="184.65" x2="327.90" y2="184.65" stroke="#000" stroke-width="0.9" />
<line x1="32.50" y1="183.29" x2="35.10" y2="183.29" stroke="#000" stroke-width="0.9" />
<line x1="330.50" y1="183.29" x2="327.90" y2="183.29" stroke="#000" stroke-width="0.9" />
<line x1="32.50" y1="182.17" x2="35.10" y2="182.17" stroke="#000" stroke-width="0.9" />
<line x1="330.50" y1="182.17" x2="327.90" y2="182.17" stroke="#000" stroke-width="0.9" />
<line x1="32.50" y1="181.23" x2="35.10" y2="181.23" stroke="#000" stroke-width="0.9" />
<line x1="330.50" y1="181.23" x2="327.90" y2="181.23" stroke="#000" stroke-width="0.9" />
<line x1="32.50" y1="180.42" x2="35.10" y2="180.42" stroke="#000" stroke-width="0.9" />
<line x1="330.50" y1="180.42" x2="327.90" y2="180.42" stroke="#000" stroke-width="0.9" />
<line x1="32.50" y1="179.70" x2="35.10" y2="179.70" stroke="#000" stroke-width="0.9" />
<line x1="330.50" y1="179.70" x2="327.90" y2="179.70" stroke="#000" stroke-width="0.9" />
<line x1="32.50" y1="179.06" x2="37.10" y2="179.06" stroke="#000" stroke-width="1.0" />
<line x1="330.50" y1="179.06" x2="325.90" y2="179.06" stroke="#000" stroke-width="1.0" />
<line x1="32.50" y1="174.82" x2="35.10" y2="174.82" stroke="#000" stroke-width="0.9" />
<line x1="330.50" y1="174.82" x2="327.90" y2="174.82" stroke="#000" stroke-width="0.9" />
<line x1="32.50" y1="172.35" x2="35.10" y2="172.35" stroke="#000" stroke-width="0.9" />
<line x1="330.50" y1="172.35" x2="327.90" y2="172.35" stroke="#000" stroke-width="0.9" />
<line x1="32.50" y1="170.59" x2="35.10" y2="170.59" stroke="#000" stroke-width="0.9" />
<line x1="330.50" y1="170.59" x2="327.90" y2="170.59" stroke="#000" stroke-width="0.9" />
<line x1="32.50" y1="169.23" x2="35.10" y2="169.23" stroke="#000" stroke-width="0.9" />
<line x1="330.50" y1="169.23" x2="327.90" y2="169.23" stroke="#000" stroke-width="0.9" />
<line x1="32.50" y1="168.12" x2="35.10" y2="168.12" stroke="#000" stroke-width="0.9" />
<line x1="330.50" y1="168.12" x2="327.90" y2="168.12" stroke="#000" stroke-width="0.9" />
<line x1="32.50" y1="167.18" x2="35.10" y2="167.18" stroke="#000" stroke-width="0.9" />
<line x1="330.50" y1="167.18" x2="327.90" y2="167.18" stroke="#000" stroke-width="0.9" />
<line x1="32.50" y1="166.36" x2="35.10" y2="166.36" stroke="#000" stroke-width="0.9" />
<line x1="330.50" y1="166.36" x2="327.90" y2="166.36" stroke="#000" stroke-width="0.9" />
<line x1="32.50" y1="165.64" x2="35.10" y2="165.64" stroke="#000" stroke-width="0.9" />
<line x1="330.50" y1="165.64" x2="327.90" y2="165.64" stroke="#000" stroke-width="0.9" />
<line x1="32.50" y1="165.00" x2="37.10" y2="165.00" stroke="#000" stroke-width="1.0" />
<line x1="330.50" y1="165.00" x2="325.90" y2="165.00" stroke="#000" stroke-width="1.0" />
<line x1="32.50" y1="165.00" x2="89.80" y2="165.00" stroke="#000" stroke-width="1.2" />
<line x1="43.90" y1="165.00" x2="43.90" y2="169.60" stroke="#000" stroke-width="1.0" />
<line x1="66.70" y1="165.00" x2="66.70" y2="169.60" stroke="#000" stroke-width="1.0" />
<line x1="34.78" y1="165.00" x2="34.78" y2="167.60" stroke="#000" stroke-width="1.0" />
<line x1="39.34" y1="165.00" x2="39.34" y2="167.60" stroke="#000" stroke-width="1.0" />
<line x1="48.46" y1="165.00" x2="48.46" y2="167.60" stroke="#000" stroke-width="1.0" />
<line x1="53.02" y1="165.00" x2="53.02" y2="167.60" stroke="#000" stroke-width="1.0" />
<line x1="57.58" y1="165.00" x2="57.58" y2="167.60" stroke="#000" stroke-width="1.0" />
<line x1="62.14" y1="165.00" x2="62.14" y2="167.60" stroke="#000" stroke-width="1.0" />
<line x1="71.26" y1="165.00" x2="71.26" y2="167.60" stroke="#000" stroke-width="1.0" />
<line x1="75.82" y1="165.00" x2="75.82" y2="167.60" stroke="#000" stroke-width="1.0" />
<line x1="80.38" y1="165.00" x2="80.38" y2="167.60" stroke="#000" stroke-width="1.0" />
<line x1="84.94" y1="165.00" x2="84.94" y2="167.60" stroke="#000" stroke-width="1.0" />
<line x1="32.50" y1="291.50" x2="89.80" y2="291.50" stroke="#000" stroke-width="1.2" />
<line x1="43.90" y1="291.50" x2="43.90" y2="296.10" stroke="#000" stroke-width="1.0" />
<line x1="66.70" y1="291.50" x2="66.70" y2="296.10" stroke="#000" stroke-width="1.0" />
<line x1="34.78" y1="291.50" x2="34.78" y2="294.10" stroke="#000" stroke-width="1.0" />
<line x1="39.34" y1="291.50" x2="39.34" y2="294.10" stroke="#000" stroke-width="1.0" />
<line x1="48.46" y1="291.50" x2="48.46" y2="294.10" stroke="#000" stroke-width="1.0" />
<line x1="53.02" y1="291.50" x2="53.02" y2="294.10" stroke="#000" stroke-width="1.0" />
<line x1="57.58" y1="291.50" x2="57.58" y2="294.10" stroke="#000" stroke-width="1.0" />
<line x1="62.14" y1="291.50" x2="62.14" y2="294.10" stroke="#000" stroke-width="1.0" />
<line x1="71.26" y1="291.50" x2="71.26" y2="294.10" stroke="#000" stroke-width="1.0" />
<line x1="75.82" y1="291.50" x2="75.82" y2="294.10" stroke="#000" stroke-width="1.0" />
<line x1="80.38" y1="291.50" x2="80.38" y2="294.10" stroke="#000" stroke-width="1.0" />
<line x1="84.94" y1="291.50" x2="84.94" y2="294.10" stroke="#000" stroke-width="1.0" />
<line x1="94.40" y1="165.00" x2="208.65" y2="165.00" stroke="#000" stroke-width="1.2" />
<line x1="94.40" y1="165.00" x2="94.40" y2="169.60" stroke="#000" stroke-width="1.0" />
<line x1="117.25" y1="165.00" x2="117.25" y2="169.60" stroke="#000" stroke-width="1.0" />
<line x1="140.10" y1="165.00" x2="140.10" y2="169.60" stroke="#000" stroke-width="1.0" />
<line x1="162.95" y1="165.00" x2="162.95" y2="169.60" stroke="#000" stroke-width="1.0" />
<line x1="185.80" y1="165.00" x2="185.80" y2="169.60" stroke="#000" stroke-width="1.0" />
<line x1="105.83" y1="165.00" x2="105.83" y2="167.60" stroke="#000" stroke-width="1.0" />
<line x1="128.68" y1="165.00" x2="128.68" y2="167.60" stroke="#000" stroke-width="1.0" />
<line x1="151.53" y1="165.00" x2="151.53" y2="167.60" stroke="#000" stroke-width="1.0" />
<line x1="174.38" y1="165.00" x2="174.38" y2="167.60" stroke="#000" stroke-width="1.0" />
<line x1="197.23" y1="165.00" x2="197.23" y2="167.60" stroke="#000" stroke-width="1.0" />
<line x1="94.40" y1="291.50" x2="208.65" y2="291.50" stroke="#000" stroke-width="1.2" />
<line x1="94.40" y1="291.50" x2="94.40" y2="296.10" stroke="#000" stroke-width="1.0" />
<line x1="117.25" y1="291.50" x2="117.25" y2="296.10" stroke="#000" stroke-width="1.0" />
<line x1="140.10" y1="291.50" x2="140.10" y2="296.10" stroke="#000" stroke-width="1.0" />
<line x1="162.95" y1="291.50" x2="162.95" y2="296.10" stroke="#000" stroke-width="1.0" />
<line x1="185.80" y1="291.50" x2="185.80" y2="296.10" stroke="#000" stroke-width="1.0" />
<line x1="105.83" y1="291.50" x2="105.83" y2="294.10" stroke="#000" stroke-width="1.0" />
<line x1="128.68" y1="291.50" x2="128.68" y2="294.10" stroke="#000" stroke-width="1.0" />
<line x1="151.53" y1="291.50" x2="151.53" y2="294.10" stroke="#000" stroke-width="1.0" />
<line x1="174.38" y1="291.50" x2="174.38" y2="294.10" stroke="#000" stroke-width="1.0" />
<line x1="197.23" y1="291.50" x2="197.23" y2="294.10" stroke="#000" stroke-width="1.0" />
<line x1="213.90" y1="165.00" x2="330.50" y2="165.00" stroke="#000" stroke-width="1.2" />
<line x1="222.80" y1="165.00" x2="222.80" y2="169.60" stroke="#000" stroke-width="1.0" />
<line x1="240.75" y1="165.00" x2="240.75" y2="169.60" stroke="#000" stroke-width="1.0" />
<line x1="258.70" y1="165.00" x2="258.70" y2="169.60" stroke="#000" stroke-width="1.0" />
<line x1="276.65" y1="165.00" x2="276.65" y2="169.60" stroke="#000" stroke-width="1.0" />
<line x1="294.60" y1="165.00" x2="294.60" y2="169.60" stroke="#000" stroke-width="1.0" />
<line x1="312.55" y1="165.00" x2="312.55" y2="169.60" stroke="#000" stroke-width="1.0" />
<line x1="330.50" y1="165.00" x2="330.50" y2="169.60" stroke="#000" stroke-width="1.0" />
<line x1="231.78" y1="165.00" x2="231.78" y2="167.60" stroke="#000" stroke-width="1.0" />
<line x1="249.73" y1="165.00" x2="249.73" y2="167.60" stroke="#000" stroke-width="1.0" />
<line x1="267.68" y1="165.00" x2="267.68" y2="167.60" stroke="#000" stroke-width="1.0" />
<line x1="285.62" y1="165.00" x2="285.62" y2="167.60" stroke="#000" stroke-width="1.0" />
<line x1="303.57" y1="165.00" x2="303.57" y2="167.60" stroke="#000" stroke-width="1.0" />
<line x1="321.52" y1="165.00" x2="321.52" y2="167.60" stroke="#000" stroke-width="1.0" />
<line x1="213.90" y1="291.50" x2="330.50" y2="291.50" stroke="#000" stroke-width="1.2" />
<line x1="222.80" y1="291.50" x2="222.80" y2="296.10" stroke="#000" stroke-width="1.0" />
<line x1="240.75" y1="291.50" x2="240.75" y2="296.10" stroke="#000" stroke-width="1.0" />
<line x1="258.70" y1="291.50" x2="258.70" y2="296.10" stroke="#000" stroke-width="1.0" />
<line x1="276.65" y1="291.50" x2="276.65" y2="296.10" stroke="#000" stroke-width="1.0" />
<line x1="294.60" y1="291.50" x2="294.60" y2="296.10" stroke="#000" stroke-width="1.0" />
<line x1="312.55" y1="291.50" x2="312.55" y2="296.10" stroke="#000" stroke-width="1.0" />
<line x1="330.50" y1="291.50" x2="330.50" y2="296.10" stroke="#000" stroke-width="1.0" />
<line x1="231.78" y1="291.50" x2="231.78" y2="294.10" stroke="#000" stroke-width="1.0" />
<line x1="249.73" y1="291.50" x2="249.73" y2="294.10" stroke="#000" stroke-width="1.0" />
<line x1="267.68" y1="291.50" x2="267.68" y2="294.10" stroke="#000" stroke-width="1.0" />
<line x1="285.62" y1="291.50" x2="285.62" y2="294.10" stroke="#000" stroke-width="1.0" />
<line x1="303.57" y1="291.50" x2="303.57" y2="294.10" stroke="#000" stroke-width="1.0" />
<line x1="321.52" y1="291.50" x2="321.52" y2="294.10" stroke="#000" stroke-width="1.0" />
<line x1="87.60" y1="167.20" x2="92.40" y2="162.80" stroke="#000" stroke-width="1.0" />
<line x1="87.60" y1="293.70" x2="92.40" y2="289.30" stroke="#000" stroke-width="1.0" />
<line x1="92.10" y1="167.20" x2="96.90" y2="162.80" stroke="#000" stroke-width="1.0" />
<line x1="92.10" y1="293.70" x2="96.90" y2="289.30" stroke="#000" stroke-width="1.0" />
<line x1="206.10" y1="167.20" x2="210.90" y2="162.80" stroke="#000" stroke-width="1.0" />
<line x1="206.10" y1="293.70" x2="210.90" y2="289.30" stroke="#000" stroke-width="1.0" />
<line x1="211.60" y1="167.20" x2="216.40" y2="162.80" stroke="#000" stroke-width="1.0" />
<line x1="211.60" y1="293.70" x2="216.40" y2="289.30" stroke="#000" stroke-width="1.0" />
<text x="27.4" y="182.96" text-anchor="end" class="tl">10<tspan dy="-4.0" font-size="7.0">7</tspan></text>
<text x="27.4" y="211.07" text-anchor="end" class="tl">10<tspan dy="-4.0" font-size="7.0">5</tspan></text>
<text x="27.4" y="239.18" text-anchor="end" class="tl">10<tspan dy="-4.0" font-size="7.0">3</tspan></text>
<text x="27.4" y="267.29" text-anchor="end" class="tl">10<tspan dy="-4.0" font-size="7.0">1</tspan></text>
<text x="21.45" y="295.40" text-anchor="end" class="tl">10</text><text x="21.7" y="291.40" class="tl" style="font-size:7px">-</text><text x="26.9" y="291.10" class="tl" style="font-size:7px" text-anchor="end">1</text>
<text x="43.90" y="307.80" text-anchor="middle" class="tl xl" textLength="5.25" lengthAdjust="spacingAndGlyphs">1</text>
<text x="66.70" y="307.80" text-anchor="middle" class="tl xl" textLength="5.25" lengthAdjust="spacingAndGlyphs">2</text>
<text x="94.40" y="307.80" text-anchor="middle" class="tl xl" textLength="10.50" lengthAdjust="spacingAndGlyphs">20</text>
<text x="117.25" y="307.80" text-anchor="middle" class="tl xl" textLength="10.50" lengthAdjust="spacingAndGlyphs">21</text>
<text x="140.10" y="307.80" text-anchor="middle" class="tl xl" textLength="10.50" lengthAdjust="spacingAndGlyphs">22</text>
<text x="162.95" y="307.80" text-anchor="middle" class="tl xl" textLength="10.50" lengthAdjust="spacingAndGlyphs">23</text>
<text x="185.80" y="307.80" text-anchor="middle" class="tl xl" textLength="10.50" lengthAdjust="spacingAndGlyphs">24</text>
<text x="222.80" y="307.80" text-anchor="middle" class="tl xl" textLength="10.50" lengthAdjust="spacingAndGlyphs">44</text>
<text x="240.75" y="307.80" text-anchor="middle" class="tl xl" textLength="10.50" lengthAdjust="spacingAndGlyphs">45</text>
<text x="258.70" y="307.80" text-anchor="middle" class="tl xl" textLength="10.50" lengthAdjust="spacingAndGlyphs">46</text>
<text x="276.65" y="307.80" text-anchor="middle" class="tl xl" textLength="10.50" lengthAdjust="spacingAndGlyphs">47</text>
<text x="294.60" y="307.80" text-anchor="middle" class="tl xl" textLength="10.50" lengthAdjust="spacingAndGlyphs">48</text>
<text x="312.55" y="307.80" text-anchor="middle" class="tl xl" textLength="10.50" lengthAdjust="spacingAndGlyphs">49</text>
<text x="330.50" y="307.80" text-anchor="middle" class="tl xl" textLength="10.50" lengthAdjust="spacingAndGlyphs">50</text>
<line x1="148.60" y1="5.00" x2="148.60" y2="291.00" stroke="#333" stroke-width="0.9" stroke-dasharray="3.3 2.58" stroke-dashoffset="0.1"/>
<line x1="253.30" y1="5.00" x2="253.30" y2="287.50" stroke="#333" stroke-width="0.9" stroke-dasharray="3.3 2.58" stroke-dashoffset="5.38"/>
<polyline points="32.3,40.5 33.5,39.6 35.1,39.1 37.0,39.5 38.4,41.2 39.9,47.9 41.4,55.3 42.9,62.7 43.7,66.3 44.1,66.9 45.1,71.6 46.1,76.0 47.3,80.4 47.7,84.3 48.2,89.0 49.1,84.8 50.5,94.0 51.4,86.2 52.5,94.5 54.0,83.9 55.3,90.4 57.0,83.0 58.4,88.5 59.9,83.0 61.4,87.6 63.0,83.9 64.4,88.0 65.9,85.4 67.7,89.6 69.1,87.2 70.9,92.8 72.3,89.6 74.2,95.1 75.4,92.8 77.4,97.9 78.8,95.6 80.7,100.7 82.0,98.4 83.9,103.0 85.8,101.1 87.9,106.2 88.8,103.9" fill="none" stroke="#ff0000" stroke-width="0.55" stroke-linejoin="round"/>
<polyline points="95.3,97.0 97.1,94.3 98.5,95.6 100.7,92.9 102.0,90.5 103.8,91.6 105.6,94.7 107.8,90.7 109.6,93.4 111.4,88.9 113.2,92.0 115.0,87.6 116.8,90.7 118.6,85.5 120.4,89.0 122.2,83.5 123.7,87.5 125.5,81.2 127.3,87.0 129.2,78.9 131.0,85.9 132.8,76.5 134.4,83.8 136.3,73.3 138.0,80.7 139.9,69.6 141.5,75.9 143.2,64.2 144.8,69.4 146.8,51.1 148.0,47.4 149.3,52.3 150.5,58.5 151.7,51.1 152.0,40.0 152.4,24.1 152.9,35.0 153.6,47.4 154.5,58.0 155.1,62.3 155.7,66.3 157.2,66.5 157.8,67.5 158.8,70.7 159.5,75.9 160.9,72.8 162.5,76.9 163.0,81.7 164.6,77.5 166.7,85.3 168.2,81.1 170.6,88.5 171.9,83.7 173.6,91.2 175.5,86.5 177.3,92.8 178.9,89.1 180.8,94.3 182.4,91.1 184.2,97.4 185.6,93.4 187.5,97.4 189.1,95.4 190.9,98.7 192.5,97.2 194.5,100.5 196.3,98.3 198.1,101.1 199.7,99.4 201.6,101.4 203.4,100.1 205.2,101.4 207.0,101.0 208.6,102.9" fill="none" stroke="#0000ff" stroke-width="0.55" stroke-linejoin="round"/>
<polyline points="214.4,101.3 214.7,101.3 215.0,100.8 215.3,100.0 215.6,99.1 215.9,98.6 216.2,98.5 216.5,98.8 216.8,99.4 217.1,100.0 217.4,100.3 217.7,100.2 218.0,99.7 218.0,99.7 218.3,98.9 218.6,98.1 218.9,97.6 219.2,97.6 219.5,98.0 219.8,98.7 220.1,99.3 220.4,99.6 220.7,99.4 221.0,98.8 221.3,98.0 221.6,97.2 221.9,96.8 222.0,96.8 222.2,96.9 222.5,97.3 222.8,98.0 223.1,98.5 223.4,98.7 223.7,98.4 224.0,97.7 224.3,96.9 224.6,96.1 224.9,95.8 225.2,95.9 225.5,96.4 225.8,97.0 226.0,97.4 226.1,97.5 226.4,97.7 226.7,97.3 227.0,96.6 227.3,95.7 227.6,95.0 227.9,94.7 228.2,94.9 228.5,95.5 228.8,96.1 229.1,96.6 229.4,96.6 229.7,96.2 230.0,95.4 230.0,95.4 230.3,94.5 230.6,93.9 230.9,93.7 231.2,93.9 231.5,94.5 231.8,95.1 232.1,95.5 232.4,95.4 232.7,94.9 233.0,94.1 233.3,93.2 233.6,92.6 233.9,92.5 234.0,92.6 234.2,92.8 234.5,93.3 234.8,93.9 235.1,94.2 235.4,94.0 235.7,93.4 236.0,92.5 236.3,91.6 236.6,91.0 236.9,90.9 237.0,91.0 237.2,91.2 237.5,91.7 237.8,92.2 238.1,92.3 238.4,92.0 238.7,91.2 239.0,90.2 239.3,89.3 239.6,88.7 239.9,88.6 240.0,88.7 240.2,88.9 240.5,89.5 240.8,89.9 241.1,89.9 241.4,89.5 241.7,88.7 241.8,88.4 242.0,87.6 242.3,86.6 242.6,86.0 242.9,85.9 243.2,86.1 243.2,86.1 243.5,86.5 243.8,86.8 244.1,86.7 244.4,86.1 244.7,85.1 244.7,85.1 245.0,84.2 245.3,83.6 245.6,83.0 245.9,82.5 246.2,81.9 246.5,81.3 246.5,81.3 246.8,80.4 247.1,79.6 247.4,78.7 247.7,77.9 247.9,77.3 248.0,77.1 248.3,76.4 248.6,75.7 248.9,75.0 249.2,74.3 249.5,73.6 249.6,73.4 249.8,72.7 250.1,71.7 250.4,70.6 250.7,69.6 250.7,69.6 251.0,67.2 251.3,64.7 251.6,62.3 251.8,60.7 251.9,60.0 252.2,58.0 252.5,56.0 252.7,54.6 252.8,54.4 253.1,53.6 253.4,52.9 253.4,52.9 253.7,53.6 254.0,54.3 254.3,55.0 254.6,55.7 254.6,55.7 254.9,56.2 255.2,56.7 255.5,57.2 255.8,57.7 256.1,58.2 256.2,58.4 256.4,58.1 256.7,57.7 257.0,57.2 257.3,56.8 257.3,56.8 257.6,53.9 257.9,51.0 258.2,48.1 258.4,46.2 258.5,42.4 258.8,30.9 259.0,23.2 259.1,26.0 259.4,34.4 259.6,40.0 259.7,43.0 260.0,52.0 260.1,55.0 260.3,58.7 260.6,64.2 260.7,66.0 260.9,67.6 261.2,70.0 261.5,72.5 261.8,74.9 261.8,74.9 262.1,75.9 262.4,76.8 262.7,78.0 262.7,78.0 263.0,78.8 263.3,79.2 263.6,79.2 263.9,79.0 264.1,78.8 264.2,78.8 264.5,79.1 264.8,79.8 265.1,81.0 265.4,82.2 265.5,82.6 265.7,83.1 266.0,83.4 266.3,83.2 266.6,82.9 266.8,82.6 266.9,82.5 267.2,82.5 267.5,83.4 267.8,84.7 268.1,85.9 268.2,86.1 268.4,86.3 268.7,86.2 269.0,85.8 269.3,85.3 269.6,85.1 269.9,85.4 270.2,86.2 270.2,86.2 270.5,87.1 270.8,88.1 271.1,88.6 271.4,88.5 271.7,88.1 272.0,88.1 272.2,88.2 272.3,88.3 272.6,88.7 272.9,89.2 273.2,89.7 273.5,90.0 273.8,90.1 274.1,90.0 274.3,89.8 274.4,89.8 274.7,89.7 275.0,89.9 275.3,90.4 275.6,90.9 275.9,91.4 276.2,91.8 276.5,91.9 276.8,91.9 277.0,91.8 277.1,91.7 277.4,91.5 277.7,91.6 278.0,92.2 278.3,93.0 278.6,93.5 278.9,93.8 279.2,93.8 279.5,93.5 279.7,93.3 279.8,93.3 280.1,93.7 280.4,93.8 280.7,93.9 281.0,94.0 281.3,94.1 281.6,94.2 281.9,94.4 282.2,94.7 282.4,94.9 282.5,95.0 282.8,95.1 283.1,95.3 283.4,95.3 283.7,95.3 284.0,95.4 284.3,95.5 284.6,95.8 284.9,96.0 285.1,96.1 285.2,96.2 285.5,96.4 285.8,96.6 286.1,96.7 286.4,96.9 286.7,97.0 287.0,97.1 287.3,97.2 287.6,97.3 287.8,97.3 287.9,97.3 288.2,97.4 288.5,97.6 288.8,97.8 289.1,98.0 289.4,98.1 289.7,98.3 290.0,98.2 290.3,98.2 290.5,98.2 290.6,98.3 290.9,98.6 291.2,98.9 291.5,99.1 291.8,99.1 292.1,98.5 292.4,98.9 292.7,99.3 293.0,99.8 293.3,100.2 293.3,100.2 293.6,100.3 293.9,100.3 294.2,100.2 294.5,100.1 294.8,99.9 295.1,100.2 295.4,100.4 295.7,100.6 296.0,100.8 296.0,100.8 296.3,101.1 296.6,101.6 296.9,102.1 297.2,101.4 297.5,100.7 297.8,100.6 298.1,101.0 298.4,101.3 298.7,101.4 298.8,101.4 299.0,101.4 299.3,101.3 299.6,101.2 299.9,101.3 300.2,101.4 300.5,101.8 300.8,102.6 301.1,103.4 301.4,103.2 301.7,103.0 302.0,102.7 302.3,102.5 302.6,102.5 302.9,102.9 303.2,103.4 303.5,103.0 303.5,103.0 303.8,102.6 304.1,102.4 304.4,102.3 304.7,102.3 305.0,102.3 305.3,102.4 305.6,102.4 305.9,102.5 306.2,102.8 306.5,103.2 306.8,103.4 307.1,103.4 307.4,103.4 307.7,103.3 308.0,103.1 308.3,103.5 308.3,103.5 308.6,104.0 308.9,104.2 309.2,103.8 309.5,103.5 309.8,103.7 310.1,103.8 310.4,103.8 310.7,103.8 311.0,103.6 311.3,103.4 311.6,103.2 311.9,103.9 312.2,104.6 312.5,104.6 312.8,104.3 313.0,104.0 313.1,103.9 313.4,103.6 313.7,103.3 314.0,103.2 314.3,103.1 314.6,103.6 314.9,104.3 315.2,104.5 315.5,103.9 315.8,103.2 316.1,104.0 316.4,104.8 316.7,104.6 317.0,103.8 317.3,103.4 317.6,103.7 317.8,103.8 317.9,103.9 318.2,104.5 318.5,105.0 318.8,105.1 319.1,104.9 319.4,104.6 319.7,104.0 320.0,103.4 320.3,103.9 320.6,104.4 320.9,104.2 321.2,103.8 321.5,103.6 321.8,103.6 322.1,103.7 322.4,103.6 322.6,103.5 322.7,103.5 323.0,104.0 323.3,104.8 323.6,105.3 323.9,105.4 324.2,105.5 324.5,105.6 324.8,105.7 325.1,105.8 325.4,105.8 325.7,105.6 326.0,104.9 326.1,104.7 326.3,104.2 326.6,104.8 326.9,105.4 327.2,105.5 327.5,105.2 327.8,104.9 328.1,104.3 328.4,103.6 328.7,103.7 329.0,103.7 329.3,104.2 329.6,104.9 329.7,105.1" fill="none" stroke="#0000ff" stroke-width="0.55" stroke-linejoin="round"/>
<polyline points="32.8,202.5 34.2,201.4 37.4,201.7 38.3,203.0 39.6,207.5 41.9,218.0 43.5,227.5 44.0,231.5 45.1,236.5 45.6,239.5 46.5,238.6 47.4,241.5 48.3,241.0 49.7,244.9 51.1,240.2 52.2,244.1 54.0,239.9 55.4,243.4 56.9,240.6 58.3,243.8 59.7,241.6 61.5,244.9 62.6,243.1 64.4,246.3 65.4,245.6 67.2,248.6 69.2,249.2 71.2,251.6 72.4,252.2 74.0,254.8 75.6,255.8 77.6,258.4 78.8,259.0 80.4,260.9 82.0,261.6 83.7,264.1 85.3,264.8 87.3,266.5 88.9,267.7" fill="none" stroke="#ff0000" stroke-width="0.55" stroke-linejoin="round"/>
<polyline points="95.0,258.2 95.3,258.1 95.7,258.1 96.0,257.8 96.4,257.5 96.7,257.3 97.1,257.1 97.4,257.0 97.8,257.2 98.0,257.3 98.1,257.4 98.5,257.3 98.8,257.2 99.2,257.3 99.5,257.6 99.9,257.6 100.2,257.2 100.6,256.8 100.9,256.8 100.9,256.8 101.3,256.7 101.6,256.9 102.0,257.3 102.3,257.4 102.7,257.1 103.0,256.9 103.4,256.8 103.7,256.8 103.9,256.7 104.1,256.6 104.4,256.3 104.8,255.9 105.1,255.4 105.1,255.2 105.5,254.4 105.8,253.9 106.2,253.4 106.3,253.2 106.5,253.6 106.9,254.1 107.2,254.3 107.5,254.3 107.6,254.2 107.9,254.3 108.3,254.8 108.6,255.2 109.0,255.0 109.3,254.9 109.3,254.8 109.7,254.7 110.0,254.5 110.4,254.4 110.7,254.3 111.1,254.3 111.4,254.4 111.8,254.5 112.1,254.3 112.2,254.3 112.5,254.1 112.8,253.9 113.2,253.6 113.5,253.5 113.9,253.7 114.2,253.7 114.6,253.4 114.9,253.0 115.3,252.9 115.6,252.7 115.8,252.7 116.0,252.5 116.3,252.2 116.7,252.1 117.0,252.4 117.4,252.8 117.7,252.6 118.1,252.5 118.4,252.2 118.8,252.0 119.1,251.7 119.4,251.4 119.5,251.3 119.8,251.1 120.2,251.4 120.5,251.6 120.9,251.4 121.2,251.1 121.6,251.0 121.9,250.9 122.3,250.8 122.6,250.6 123.0,250.4 123.0,250.4 123.3,250.3 123.7,250.2 124.0,250.0 124.4,249.7 124.7,249.6 125.1,249.6 125.4,249.5 125.8,248.9 126.1,248.3 126.5,248.3 126.5,248.3 126.8,248.5 127.2,248.4 127.5,248.2 127.9,248.0 128.2,247.7 128.6,247.4 128.9,247.3 129.3,247.3 129.6,246.8 130.0,246.2 130.0,246.2 130.3,245.9 130.7,246.0 131.0,246.0 131.4,245.4 131.7,244.7 132.1,244.7 132.4,244.8 132.8,244.5 133.1,244.0 133.5,243.5 133.7,243.3 133.8,243.2 134.2,242.9 134.5,242.9 134.9,243.0 135.2,242.5 135.6,241.9 135.9,241.4 136.3,241.2 136.6,240.9 137.0,240.7 137.3,240.5 137.4,240.5 137.7,240.3 138.0,240.1 138.4,239.9 138.7,239.7 139.1,239.5 139.4,239.2 139.8,238.8 140.1,238.2 140.2,238.1 140.5,237.1 140.8,236.5 141.2,236.0 141.5,235.3 141.9,234.3 142.2,233.2 142.6,232.3 142.6,232.3 142.9,231.6 143.3,230.8 143.6,230.0 144.0,229.4 144.3,229.0 144.7,228.5 145.0,227.5 145.2,227.1 145.4,226.1 145.7,224.6 146.1,223.4 146.4,222.0 146.8,220.6 146.9,220.2 147.1,219.7 147.5,218.9 147.8,218.1 148.1,217.6 148.2,217.8 148.5,218.5 148.9,219.3 149.2,220.0 149.6,220.7 149.9,221.5 150.3,222.2 150.4,222.4 150.6,223.6 151.0,225.2 151.3,226.8 151.7,228.4 152.0,230.0 152.2,230.7 152.4,231.5 152.7,232.8 153.1,234.2 153.4,235.6 153.8,236.9 154.1,238.1 154.1,238.2 154.5,239.1 154.8,239.9 155.1,240.5 155.2,239.7 155.5,237.1 155.9,234.4 155.9,234.4 156.2,225.3 156.6,216.3 156.9,208.5 156.9,207.1 157.3,196.9 157.3,196.9 157.6,202.0 158.0,207.0 158.1,208.5 158.3,216.9 158.7,228.6 158.8,232.0 159.0,233.0 159.4,234.4 159.7,235.8 160.1,237.3 160.4,238.4 160.4,238.4 160.8,239.0 161.1,239.8 161.5,240.7 161.8,241.5 162.2,242.2 162.5,242.9 162.8,243.3 162.9,243.4 163.2,243.5 163.6,243.7 163.9,243.9 164.3,244.7 164.6,245.6 165.0,246.1 165.3,246.3 165.7,246.6 166.0,247.0 166.0,247.1 166.4,247.5 166.7,247.5 167.1,247.5 167.4,247.8 167.8,248.3 168.1,248.6 168.5,248.6 168.8,248.7 169.2,248.9 169.5,249.1 169.9,249.6 170.1,250.0 170.2,250.3 170.6,250.7 170.9,251.0 171.3,251.1 171.6,251.0 172.0,250.9 172.3,251.4 172.7,252.0 173.0,252.3 173.4,252.5 173.7,252.7 174.1,252.9 174.1,252.9 174.4,253.1 174.8,253.1 175.1,253.0 175.5,253.5 175.8,254.1 176.2,254.5 176.5,254.6 176.9,254.7 177.2,254.8 177.6,254.9 177.9,255.0 178.3,255.1 178.6,255.6 178.9,256.1 179.0,256.3 179.3,256.6 179.7,256.7 180.0,256.8 180.4,256.8 180.7,256.9 181.1,257.3 181.4,257.8 181.8,257.8 182.1,257.6 182.5,257.6 182.8,258.1 183.2,258.6 183.5,258.3 183.7,258.2 183.9,258.0 184.2,258.3 184.6,258.9 184.9,259.2 185.3,259.1 185.6,259.1 186.0,259.2 186.3,259.3 186.7,259.6 187.0,259.9 187.4,260.3 187.7,260.7 188.1,261.0 188.4,260.7 188.5,260.7 188.8,260.5 189.1,260.7 189.5,261.0 189.8,261.2 190.2,261.5 190.5,261.6 190.9,261.4 191.2,261.3 191.6,261.4 191.9,261.5 192.3,261.7 192.6,261.9 193.0,261.8 193.3,261.6 193.4,261.6 193.7,261.5 194.0,261.7 194.4,261.9 194.7,262.2 195.1,262.4 195.4,262.6 195.8,262.8 196.1,262.7 196.5,262.4 196.8,262.2 197.2,262.5 197.5,262.9 197.9,263.1 198.2,263.4 198.2,263.4 198.6,263.5 198.9,263.6 199.3,263.6 199.6,263.5 200.0,263.5 200.3,263.4 200.7,263.3 201.0,263.5 201.4,263.7 201.7,264.0 202.1,264.1 202.4,264.3 202.8,264.5 203.0,264.6 203.1,264.7 203.5,264.5 203.8,264.3 204.2,264.4 204.5,264.6 204.9,264.7 205.2,264.5 205.6,264.4 205.9,264.4 206.2,264.5 206.3,264.4 206.6,264.2 207.0,264.0 207.3,263.8 207.7,263.8 208.0,264.1 208.4,263.9 208.6,263.8" fill="none" stroke="#008c00" stroke-width="0.55" stroke-linejoin="round"/>
<polyline points="214.3,261.1 214.7,260.8 215.0,260.6 215.3,260.6 215.7,260.4 216.0,260.0 216.4,259.5 216.7,259.6 217.1,259.7 217.4,259.6 217.8,259.5 218.1,259.2 218.2,259.2 218.5,258.9 218.8,258.6 219.2,258.6 219.5,258.6 219.9,258.4 220.2,258.1 220.6,257.9 220.9,257.9 221.3,257.8 221.6,257.7 222.0,257.6 222.3,257.4 222.7,257.2 222.8,257.2 223.0,257.1 223.4,257.1 223.7,256.9 224.1,256.5 224.4,256.2 224.8,256.2 225.1,256.2 225.5,256.1 225.8,256.0 226.2,255.8 226.5,255.5 226.9,255.3 227.2,255.3 227.4,255.3 227.6,255.3 227.9,255.1 228.3,254.9 228.6,254.7 229.0,254.6 229.3,254.4 229.7,254.2 230.0,253.9 230.4,253.9 230.7,253.9 231.1,253.5 231.4,253.1 231.8,252.9 232.1,253.1 232.1,253.1 232.5,253.1 232.8,252.8 233.2,252.5 233.5,252.3 233.9,252.1 234.2,252.0 234.6,251.8 234.9,251.6 235.3,251.3 235.6,251.0 236.0,250.7 236.3,250.5 236.7,250.1 236.7,250.1 237.0,249.5 237.4,249.0 237.7,248.6 238.1,248.2 238.4,247.9 238.8,247.6 239.1,247.3 239.5,247.1 239.8,246.7 240.2,246.3 240.5,246.0 240.5,246.0 240.9,245.7 241.2,245.4 241.6,244.6 241.9,243.8 242.3,243.5 242.6,243.3 243.0,242.9 243.3,242.3 243.7,241.6 244.0,241.0 244.4,240.4 244.4,240.4 244.7,239.9 245.1,239.4 245.4,239.0 245.8,238.6 246.1,238.0 246.5,237.2 246.8,236.4 247.2,235.7 247.5,235.1 247.5,235.0 247.9,234.0 248.2,233.1 248.6,232.3 248.9,231.7 249.3,231.0 249.6,230.5 249.8,230.2 250.0,229.8 250.3,228.4 250.7,227.1 251.0,226.3 251.4,225.3 251.4,225.3 251.7,224.6 252.1,223.9 252.4,223.2 252.6,222.9 252.8,223.1 253.1,223.5 253.5,223.9 253.8,224.3 254.0,224.5 254.2,225.0 254.5,226.0 254.9,226.9 255.2,227.9 255.6,228.8 255.9,229.8 256.0,229.9 256.3,230.5 256.6,231.2 257.0,231.9 257.3,232.6 257.7,233.3 258.0,234.0 258.3,234.5 258.4,234.6 258.7,234.9 259.1,235.2 259.4,235.6 259.8,235.9 259.9,236.0 260.1,236.3 260.5,236.6 260.8,237.0 261.1,237.3 261.2,237.2 261.5,236.8 261.9,236.5 262.2,236.1 262.6,235.7 262.9,235.4 262.9,235.3 263.3,234.2 263.6,233.2 264.0,232.2 264.3,231.2 264.7,230.2 264.8,229.9 265.0,228.4 265.4,226.2 265.7,224.0 266.0,222.5 266.1,220.4 266.4,213.1 266.6,210.0 266.8,199.7 267.1,184.2 267.2,185.7 267.5,196.1 267.8,205.0 267.9,206.1 268.2,213.6 268.5,220.0 268.6,220.4 268.9,223.3 269.3,226.2 269.4,227.4 269.6,229.0 270.0,231.9 270.3,234.8 270.3,234.8 270.7,236.5 271.0,238.1 271.4,239.8 271.6,241.0 271.7,241.5 272.1,243.9 272.2,244.7 272.4,245.2 272.8,246.1 273.1,246.8 273.5,247.5 273.8,248.2 273.9,248.3 274.2,248.6 274.5,248.8 274.9,249.0 275.2,249.2 275.6,249.8 275.9,250.4 275.9,250.4 276.3,250.6 276.6,250.6 277.0,250.9 277.3,251.5 277.7,252.1 277.9,252.1 278.0,252.1 278.4,252.2 278.7,252.3 279.1,252.4 279.4,252.7 279.8,253.2 280.1,253.5 280.5,253.4 280.8,253.3 281.2,254.2 281.5,255.1 281.8,255.2 281.9,255.2 282.2,254.8 282.6,254.8 282.9,255.3 283.3,255.7 283.6,255.6 284.0,255.5 284.3,255.9 284.7,256.3 285.0,256.6 285.4,256.7 285.7,257.0 285.7,257.0 286.1,257.6 286.4,258.1 286.8,258.0 287.1,257.9 287.5,258.3 287.8,259.0 288.2,259.4 288.5,259.5 288.9,259.6 289.2,259.5 289.6,259.4 289.6,259.4 289.9,259.5 290.3,259.7 290.6,259.9 291.0,260.3 291.3,260.6 291.7,260.9 292.0,261.3 292.4,261.5 292.5,261.6 292.7,261.7 293.1,262.2 293.4,262.8 293.8,263.0 294.1,262.8 294.5,262.6 294.8,262.9 295.2,263.3 295.5,263.4 295.5,263.4 295.9,263.4 296.2,263.4 296.6,263.3 296.9,263.4 297.3,263.9 297.6,264.5 298.0,264.2 298.3,263.9 298.7,264.3 299.0,265.1 299.4,265.5 299.7,265.7 300.1,265.8 300.4,265.8 300.8,265.8 301.1,265.5 301.4,265.3 301.5,265.2 301.8,265.2 302.2,265.5 302.5,265.8 302.9,266.2 303.2,266.6 303.6,266.2 303.9,265.8 304.3,266.0 304.6,266.5 305.0,266.7 305.3,266.7 305.3,266.7 305.7,266.6 306.0,266.6 306.4,266.5 306.7,266.4 307.1,266.3 307.4,266.5 307.8,266.9 308.1,267.3 308.5,267.2 308.8,267.1 309.2,267.4 309.3,267.5 309.5,267.6 309.9,267.6 310.2,267.6 310.6,267.5 310.9,267.4 311.3,267.4 311.6,267.5 312.0,267.6 312.3,267.9 312.7,268.1 313.0,268.3 313.4,268.5 313.7,268.6 314.1,268.4 314.4,268.1 314.8,268.1 315.1,268.1 315.5,268.0 315.8,268.0 316.2,268.0 316.5,268.0 316.9,268.0 317.2,268.2 317.2,268.2 317.6,268.3 317.9,268.5 318.3,268.8 318.6,268.9 319.0,268.9 319.3,268.8 319.7,268.8 320.0,268.7 320.4,268.6 320.7,268.5 321.1,268.6 321.4,268.8 321.8,268.8 322.1,268.8 322.5,268.7 322.8,268.6 323.2,268.5 323.5,268.8 323.9,269.1 324.2,269.2 324.6,269.1 324.9,269.1 325.0,269.1 325.3,269.1 325.6,269.2 326.0,269.1 326.3,269.0 326.7,269.3 327.0,269.6 327.4,269.7 327.7,269.6 328.1,269.4 328.4,269.6 328.8,269.8 329.0,270.0" fill="none" stroke="#008c00" stroke-width="0.55" stroke-linejoin="round"/>
<line x1="153.30" y1="79.70" x2="153.30" y2="97.80" stroke="#555" stroke-width="0.7" />
<polygon points="153.30,73.70 151.50,80.20 155.10,80.20" fill="#000"/>
<line x1="259.60" y1="85.70" x2="259.60" y2="104.80" stroke="#555" stroke-width="0.7" />
<polygon points="259.60,80.20 257.80,86.20 261.40,86.20" fill="#000"/>
<line x1="158.90" y1="252.90" x2="158.90" y2="267.70" stroke="#555" stroke-width="0.7" />
<polygon points="158.90,246.80 157.10,253.40 160.70,253.40" fill="#000"/>
<line x1="267.30" y1="250.30" x2="267.30" y2="265.80" stroke="#555" stroke-width="0.7" />
<polygon points="267.30,244.50 265.50,250.80 269.10,250.80" fill="#000"/>
<text x="101.90" y="28.50" class="an" textLength="43.9" lengthAdjust="spacing">(110) SIO</text>
<text x="211.50" y="24.30" class="an" textLength="44.1" lengthAdjust="spacing">(220) SIO</text>
<text x="151.95" y="115.90" class="an" textLength="47.78" lengthAdjust="spacing">(110) DSO</text>
<text x="258.35" y="117.80" class="an" textLength="48.19" lengthAdjust="spacing">(220) DSO</text>
<text x="159.85" y="278.30" class="an" textLength="46.7" lengthAdjust="spacing">(001) STO</text>
<text x="267.20" y="279.60" class="an" textLength="46.76" lengthAdjust="spacing">(002) STO</text>
<text x="181.5" y="321.6" text-anchor="middle" class="xt">2θ (°)</text>
<text transform="translate(9.2,153.85) rotate(-90)" text-anchor="middle" class="yt">Intensity (counts/s)</text>
</svg>
</body></html>
